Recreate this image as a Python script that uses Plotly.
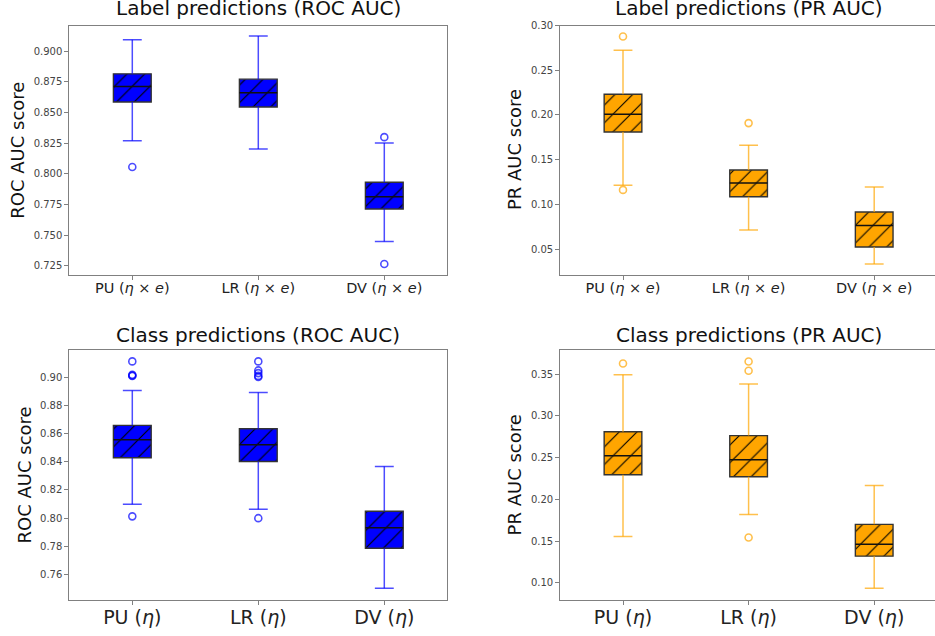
import plotly.graph_objects as go

W, H = 935, 636

# ---------------- data ----------------
positions = [1, 2, 3]
labels_top = ["PU (<i>η</i> × <i>e</i>)", "LR (<i>η</i> × <i>e</i>)", "DV (<i>η</i> × <i>e</i>)"]
labels_bottom = ["PU (<i>η</i>)", "LR (<i>η</i>)", "DV (<i>η</i>)"]

# Label predictions, ROC AUC
tl_lower = [0.8268, 0.8201, 0.7447]
tl_q1 = [0.8584, 0.8544, 0.7712]
tl_med = [0.8711, 0.8660, 0.7812]
tl_q3 = [0.8814, 0.8771, 0.7930]
tl_upper = [0.9092, 0.9122, 0.8250]
tl_out = [[0.8055], [], [0.8298, 0.7264]]

# Label predictions, PR AUC
tr_lower = [0.1213, 0.0714, 0.0333]
tr_q1 = [0.1809, 0.1085, 0.0523]
tr_med = [0.2009, 0.1240, 0.0764]
tr_q3 = [0.2231, 0.1384, 0.0915]
tr_upper = [0.2723, 0.1661, 0.1195]
tr_out = [[0.2878, 0.1162], [0.1909], []]

# Class predictions, ROC AUC
bl_lower = [0.8098, 0.8063, 0.7502]
bl_q1 = [0.8429, 0.8402, 0.7786]
bl_med = [0.8556, 0.8522, 0.7932]
bl_q3 = [0.8659, 0.8635, 0.8049]
bl_upper = [0.8906, 0.8892, 0.8367]
bl_out = [[0.9113, 0.9018, 0.9013, 0.9009, 0.8013],
          [0.9113, 0.9049, 0.9030, 0.9010, 0.9002, 0.8000], []]

# Class predictions, PR AUC
br_lower = [0.1554, 0.1819, 0.0933]
br_q1 = [0.2295, 0.2271, 0.1319]
br_med = [0.2521, 0.2474, 0.1462]
br_q3 = [0.2810, 0.2763, 0.1700]
br_upper = [0.3492, 0.3381, 0.2164]
br_out = [[0.3627], [0.3651, 0.3540, 0.1542], []]

# ---------------- styling ----------------
BLUE = "#0000ff"
BLUE_A = "rgba(0,0,255,0.7)"
ORANGE = "#ffa500"
ORANGE_A = "rgba(255,165,0,0.7)"
SPINE = "#808080"
FONT = "DejaVu Sans"

BOX_W = 0.3
CAP_W = 0.15


def px_x(p):
    return p / W


def px_y(p):
    return 1 - p / H


panels = [
    dict(ax="", title="Label predictions (ROC AUC)", ytitle="ROC AUC score",
         lower=tl_lower, q1=tl_q1, med=tl_med, q3=tl_q3, upper=tl_upper, out=tl_out,
         fill=BLUE, wcol=BLUE_A, xdom=[69.3, 447.3], xr=[0.5, 3.5], ydom=[272.0, 20.7],
         yr=[0.7175, 0.9208], dtick=0.025, tfmt=".3f", labels=labels_top, xfs=14.5,
         ytx=17.5, right=False, tgap=4),
    dict(ax="2", title="Label predictions (PR AUC)", ytitle="PR AUC score",
         lower=tr_lower, q1=tr_q1, med=tr_med, q3=tr_q3, upper=tr_upper, out=tr_out,
         fill=ORANGE, wcol=ORANGE_A, xdom=[560.2, 935.0], xr=[0.5, 3.5 - 2.0 / 125.7],
         ydom=[271.7, 20.7], yr=[0.0215, 0.30], dtick=0.05, tfmt=".2f",
         labels=labels_top, xfs=14.5, ytx=514, right=True, tgap=4),
    dict(ax="3", title="Class predictions (ROC AUC)", ytitle="ROC AUC score",
         lower=bl_lower, q1=bl_q1, med=bl_med, q3=bl_q3, upper=bl_upper, out=bl_out,
         fill=BLUE, wcol=BLUE_A, xdom=[69.3, 447.3], xr=[0.5, 3.5], ydom=[600.0, 347.3],
         yr=[0.7417, 0.9197], dtick=0.02, tfmt=".2f", labels=labels_bottom, xfs=19,
         ytx=24.5, right=False, tgap=1),
    dict(ax="4", title="Class predictions (PR AUC)", ytitle="PR AUC score",
         lower=br_lower, q1=br_q1, med=br_med, q3=br_q3, upper=br_upper, out=br_out,
         fill=ORANGE, wcol=ORANGE_A, xdom=[560.2, 935.0], xr=[0.5, 3.5 - 2.0 / 125.7],
         ydom=[600.0, 347.3], yr=[0.079, 0.3794], dtick=0.05, tfmt=".2f",
         labels=labels_bottom, xfs=19, ytx=514.5, right=True, tgap=1),
]

fig = go.Figure()
annotations = []
layout = {}

for pn in panels:
    xa = "x" + pn["ax"]
    ya = "y" + pn["ax"]

    # box bodies (hatched bars)
    heights = [b - a for a, b in zip(pn["q1"], pn["q3"])]
    fig.add_trace(go.Bar(
        x=positions, y=heights, base=pn["q1"], width=BOX_W,
        marker=dict(color=pn["fill"], line=dict(color="#333333", width=1.4),
                    pattern=dict(shape="/", fgcolor="#000000", bgcolor=pn["fill"],
                                 fgopacity=1, size=12.5, solidity=0.09)),
        xaxis=xa, yaxis=ya, showlegend=False, hoverinfo="skip"))

    # whiskers
    wx, wy, cx, cy = [], [], [], []
    for p, lo, a, b, hi in zip(positions, pn["lower"], pn["q1"], pn["q3"], pn["upper"]):
        wx += [p, p, None, p, p, None]
        wy += [a, lo, None, b, hi, None]
        cx += [p - CAP_W / 2, p + CAP_W / 2, None, p - CAP_W / 2, p + CAP_W / 2, None]
        cy += [lo, lo, None, hi, hi, None]
    fig.add_trace(go.Scatter(x=wx, y=wy, mode="lines", line=dict(color=pn["wcol"], width=1.5),
                             xaxis=xa, yaxis=ya, showlegend=False, hoverinfo="skip"))
    fig.add_trace(go.Scatter(x=cx, y=cy, mode="lines", line=dict(color=pn["wcol"], width=1.5),
                             xaxis=xa, yaxis=ya, showlegend=False, hoverinfo="skip"))

    # medians
    mx, my = [], []
    for p, m in zip(positions, pn["med"]):
        mx += [p - BOX_W / 2, p + BOX_W / 2, None]
        my += [m, m, None]
    fig.add_trace(go.Scatter(x=mx, y=my, mode="lines", line=dict(color="#111111", width=1.5),
                             xaxis=xa, yaxis=ya, showlegend=False, hoverinfo="skip"))

    # outliers
    ox, oy = [], []
    for p, vals in zip(positions, pn["out"]):
        for v in vals:
            ox.append(p)
            oy.append(v)
    fig.add_trace(go.Scatter(x=ox, y=oy, mode="markers",
                             marker=dict(symbol="circle-open", size=7,
                                         color=pn["wcol"], line=dict(width=1.6)),
                             xaxis=xa, yaxis=ya, showlegend=False, hoverinfo="skip"))

    layout["xaxis" + pn["ax"]] = dict(
        domain=[px_x(pn["xdom"][0]), px_x(pn["xdom"][1])], range=pn["xr"],
        anchor=ya, tickmode="array", tickvals=positions, ticktext=pn["labels"],
        ticks="outside", ticklen=4, tickcolor=SPINE, showgrid=False, zeroline=False,
        showline=True, linecolor=SPINE, linewidth=1, mirror=True, ticklabelstandoff=-4,
        tickfont=dict(family=FONT, size=pn["xfs"], color="#222222"), fixedrange=True)
    layout["yaxis" + pn["ax"]] = dict(
        domain=[px_y(pn["ydom"][0]), px_y(pn["ydom"][1])], range=pn["yr"],
        anchor=xa, dtick=pn["dtick"], tick0=0, tickformat=pn["tfmt"],
        ticks="outside", ticklen=4, tickcolor=SPINE, showgrid=False, zeroline=False,
        showline=True, linecolor=SPINE, linewidth=1, mirror=(not pn["right"]),
        tickfont=dict(family=FONT, size=10, color="#444444"), fixedrange=True)

    # title
    annotations.append(dict(
        text=pn["title"], xref="paper", yref="paper",
        x=px_x((pn["xdom"][0] + (pn["xdom"][0] + 378.0)) / 2),
        y=px_y(pn["ydom"][1] - pn["tgap"]),
        xanchor="center", yanchor="bottom", showarrow=False,
        font=dict(family=FONT, size=20, color="#111111")))
    # y title
    annotations.append(dict(
        text=pn["ytitle"], xref="paper", yref="paper",
        x=px_x(pn["ytx"]), y=px_y((pn["ydom"][0] + pn["ydom"][1]) / 2),
        xanchor="center", yanchor="middle", textangle=-90, showarrow=False,
        font=dict(family=FONT, size=18, color="#111111")))

fig.update_layout(
    width=W, height=H, margin=dict(l=0, r=0, t=0, b=0),
    paper_bgcolor="white", plot_bgcolor="white",
    barmode="overlay", annotations=annotations, showlegend=False,
    **layout)

fig.write_html("out.html", config={"displayModeBar": False},
               post_script="document.body.style.margin='0';document.body.style.padding='0';")
